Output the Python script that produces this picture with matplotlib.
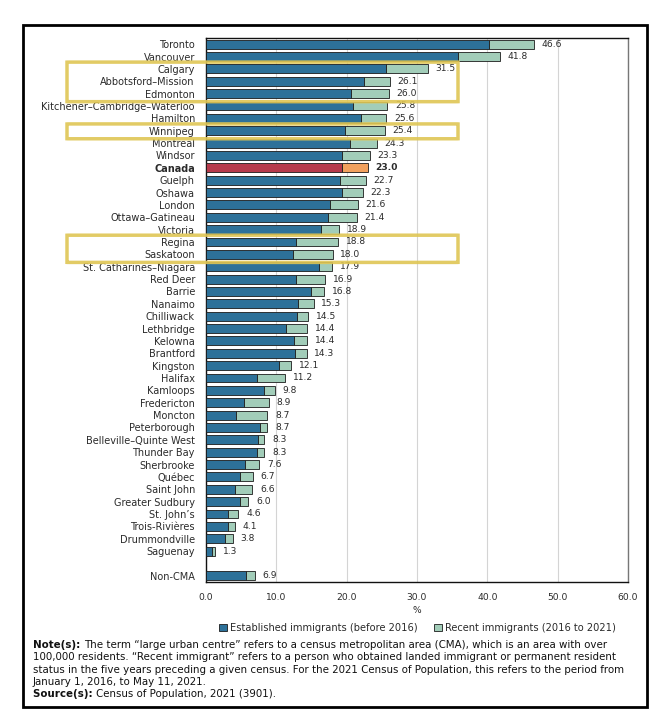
import matplotlib
matplotlib.use("Agg")
import matplotlib.pyplot as plt
import matplotlib.transforms as mtransforms
from matplotlib.patches import Patch, Rectangle, FancyBboxPatch

# ---------------- data ----------------
categories = [
    "Toronto", "Vancouver", "Calgary", "Abbotsford–Mission", "Edmonton",
    "Kitchener–Cambridge–Waterloo", "Hamilton", "Winnipeg", "Montreal", "Windsor",
    "Canada", "Guelph", "Oshawa", "London", "Ottawa–Gatineau", "Victoria",
    "Regina", "Saskatoon", "St. Catharines–Niagara", "Red Deer", "Barrie",
    "Nanaimo", "Chilliwack", "Lethbridge", "Kelowna", "Brantford", "Kingston",
    "Halifax", "Kamloops", "Fredericton", "Moncton", "Peterborough",
    "Belleville–Quinte West", "Thunder Bay", "Sherbrooke", "Québec", "Saint John",
    "Greater Sudbury", "St. John’s", "Trois-Rivières", "Drummondville", "Saguenay",
    "Non-CMA",
]
totals = [
    46.6, 41.8, 31.5, 26.1, 26.0, 25.8, 25.6, 25.4, 24.3, 23.3,
    23.0, 22.7, 22.3, 21.6, 21.4, 18.9, 18.8, 18.0, 17.9, 16.9,
    16.8, 15.3, 14.5, 14.4, 14.4, 14.3, 12.1, 11.2, 9.8, 8.9,
    8.7, 8.7, 8.3, 8.3, 7.6, 6.7, 6.6, 6.0, 4.6, 4.1,
    3.8, 1.3, 6.9,
]
established = [
    40.3, 35.8, 25.6, 22.4, 20.6, 20.9, 22.1, 19.7, 20.5, 19.4,
    19.4, 19.0, 19.4, 17.7, 17.3, 16.3, 12.8, 12.4, 16.0, 12.8,
    14.9, 13.1, 13.0, 11.4, 12.5, 12.7, 10.4, 7.2, 8.3, 5.4,
    4.3, 7.7, 7.4, 7.3, 5.6, 4.9, 4.1, 4.9, 3.1, 3.1,
    2.7, 0.9, 5.7,
]
recent = [round(t - e, 1) for t, e in zip(totals, established)]
x_ticks = [0, 10, 20, 30, 40, 50, 60]
legend_labels = ["Established immigrants (before 2016)", "Recent immigrants (2016 to 2021)"]
highlight_groups = [("Calgary", "Edmonton"), ("Winnipeg", "Winnipeg"), ("Regina", "Saskatoon")]

# ---------------- style ----------------
C_EST = "#2d7199"
C_REC = "#a2cdb9"
C_CAN_EST = "#b63a4b"
C_CAN_REC = "#f2a15e"
EDGE = "#1b1b1b"
TXT = "#2a2a2a"
plt.rcParams["font.family"] = ["DejaVu Sans"]

fig = plt.figure(figsize=(6.65, 7.13), dpi=100)
W, H = 665, 713
ax = fig.add_axes([206 / W, 1 - 582 / H, (628 - 206) / W, (582 - 38) / H])

# positions: one blank row before Non-CMA
ypos = list(range(len(categories) - 1)) + [len(categories)]

for i, (cat, e, r, t) in enumerate(zip(categories, established, recent, totals)):
    y = ypos[i]
    ce, cr = (C_CAN_EST, C_CAN_REC) if cat == "Canada" else (C_EST, C_REC)
    ax.barh(y, e, height=0.72, color=ce, edgecolor=EDGE, linewidth=0.6, zorder=3)
    ax.barh(y, r, left=e, height=0.72, color=cr, edgecolor=EDGE, linewidth=0.6, zorder=3)
    ax.text(t + 1.1, y, f"{t:.1f}", va="center", ha="left", fontsize=6.6,
            color=TXT, fontweight="bold" if cat == "Canada" else "normal", zorder=4)

ax.set_ylim(len(categories) + 0.5, -0.5)
ax.set_xlim(0, 60)
ax.set_yticks(ypos)
ax.set_yticklabels(categories, fontsize=7, color=TXT)
for lbl in ax.get_yticklabels():
    if lbl.get_text() == "Canada":
        lbl.set_fontweight("bold")
ax.set_xticks(x_ticks)
ax.set_xticklabels([f"{v:.1f}" for v in x_ticks], fontsize=6.6, color=TXT)
ax.tick_params(axis="x", length=0, pad=8)
ax.tick_params(axis="y", length=0, pad=8)
ax.grid(axis="x", color="#d4d4d4", linewidth=0.8, zorder=0)
ax.set_axisbelow(True)
for s in ["top", "left", "bottom"]:
    ax.spines[s].set_color("#111111")
    ax.spines[s].set_linewidth(1.0)
ax.spines["right"].set_color("#777777")
ax.spines["right"].set_linewidth(1.0)
ax.set_xlabel("%", fontsize=6.6, color=TXT, labelpad=3)

# legend
handles = [Patch(facecolor=C_EST, edgecolor=EDGE, linewidth=0.6),
           Patch(facecolor=C_REC, edgecolor=EDGE, linewidth=0.6)]
fig.legend(handles, legend_labels, loc="center right", bbox_to_anchor=(620 / W, 1 - 628 / H),
           ncol=2, frameon=False, fontsize=7.1, handlelength=0.8, handleheight=0.8,
           handletextpad=0.3, columnspacing=1.7, borderaxespad=0, labelcolor=TXT)

# yellow highlight boxes (figure x, data y)
btr = mtransforms.blended_transform_factory(fig.transFigure, ax.transData)
for a, b in highlight_groups:
    ya = ypos[categories.index(a)] - 0.55
    yb = ypos[categories.index(b)] + 0.65
    x0, x1 = 67 / W, 458 / W
    rect = FancyBboxPatch((x0, ya), x1 - x0, yb - ya, boxstyle="round,pad=0,rounding_size=0.004",
                          transform=btr, fill=False, edgecolor="#dfc654", linewidth=2.5,
                          alpha=0.9, clip_on=False, zorder=10, mutation_aspect=1)
    fig.add_artist(rect)

# notes
note_lines = [
    ("Note(s): ", "The term “large urban centre” refers to a census metropolitan area (CMA), which is an area with over"),
    ("", "100,000 residents. “Recent immigrant” refers to a person who obtained landed immigrant or permanent resident"),
    ("", "status in the five years preceding a given census. For the 2021 Census of Population, this refers to the period from"),
    ("", "January 1, 2016, to May 11, 2021."),
    ("Source(s): ", "Census of Population, 2021 (3901)."),
]
fig.canvas.draw()
renderer = fig.canvas.get_renderer()
x_note = 33 / W
y0 = 645
for k, (bold, rest) in enumerate(note_lines):
    yy = 1 - (y0 + k * 12.3) / H
    xx = x_note
    if bold:
        tb = fig.text(xx, yy, bold, fontsize=7.35, fontweight="bold", color="#111111", va="center", ha="left")
        bb = tb.get_window_extent(renderer)
        xx = bb.x1 / fig.bbox.width
    fig.text(xx, yy, rest, fontsize=7.35, color="#111111", va="center", ha="left")

# outer frame
fig.add_artist(Rectangle((23 / W, 1 - 707 / H), (647 - 23) / W, (707 - 25) / H,
                         transform=fig.transFigure, fill=False, edgecolor="black",
                         linewidth=2.0, zorder=20))

fig.savefig("out.png", dpi=100, facecolor="white")
